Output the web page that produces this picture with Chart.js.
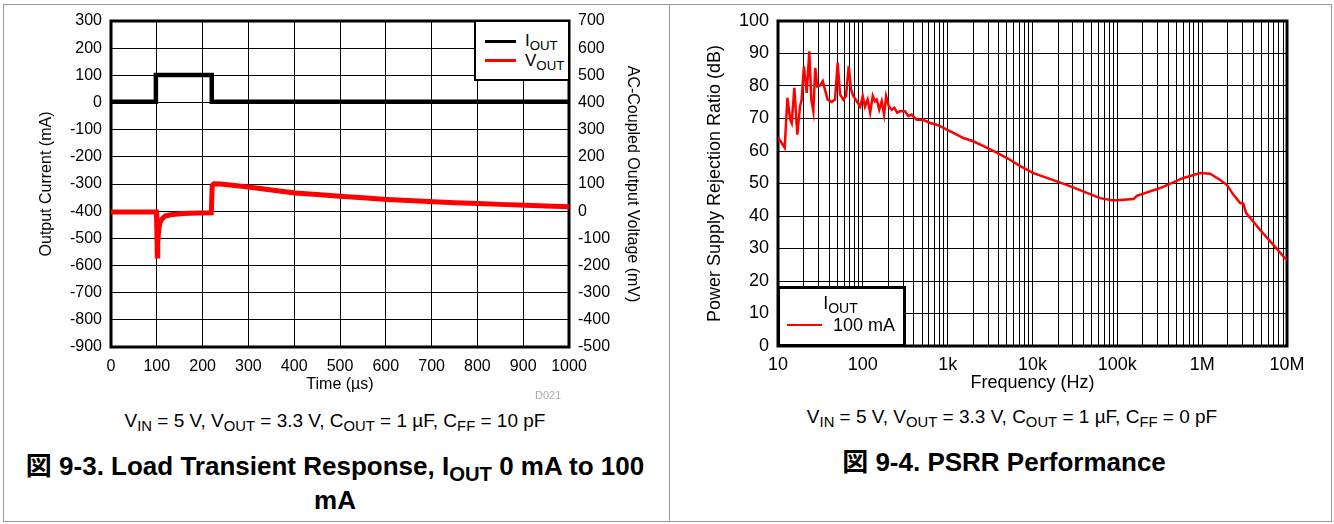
<!DOCTYPE html>
<html><head><meta charset="utf-8">
<script src="https://cdn.jsdelivr.net/npm/chart.js@4.4.1/dist/chart.umd.min.js"></script>
<style>
body{margin:0;width:1334px;height:524px;position:relative;background:#fff;overflow:hidden;font-family:"Liberation Sans",Arial,"Noto Sans CJK JP",sans-serif;color:#000}
.abs{position:absolute}
sub{font-size:0.78em;vertical-align:-0.28em;line-height:0}
.cap{position:absolute;font-size:19px;line-height:22px;text-align:center;white-space:nowrap}
.ttl{position:absolute;font-size:26px;line-height:34px;font-weight:bold;text-align:center;white-space:nowrap}
.lg{position:absolute;font-size:17px;line-height:20px;white-space:nowrap}
.lg2{position:absolute;font-size:18px;line-height:22px;white-space:nowrap}
</style></head>
<body>
<div class="abs" style="left:3px;top:4px;width:1327px;height:516px;border:1px solid #999"></div>
<div class="abs" style="left:669px;top:4px;width:1px;height:517px;background:#999"></div>
<canvas id="c1" class="abs" width="669" height="400" style="left:0;top:0"></canvas>
<canvas id="c2" class="abs" width="664" height="400" style="left:670px;top:0"></canvas>

<div class="abs" style="left:474px;top:20px;width:96px;height:61px;border:2px solid #000;box-sizing:border-box;background:#fff"></div>
<div class="abs" style="left:485px;top:40px;width:31px;height:3px;background:#000"></div>
<div class="lg" style="left:525px;top:31px;">I<sub>OUT</sub></div>
<div class="abs" style="left:485px;top:59px;width:31px;height:3px;background:#f00"></div>
<div class="lg" style="left:525px;top:51px;">V<sub>OUT</sub></div>

<div class="abs" style="left:777px;top:286px;width:129px;height:61px;border:3px solid #000;box-sizing:border-box;background:#fff"></div>
<div class="lg2" style="left:776px;width:129px;text-align:center;top:292px;">I<sub>OUT</sub></div>
<div class="abs" style="left:787px;top:324px;width:35px;height:2px;background:#f00"></div>
<div class="lg2" style="left:833px;top:314px;">100 mA</div>

<div class="abs" style="left:535px;top:389px;font-size:11px;color:#aaa">D021</div>

<div class="cap" style="left:0;width:670px;top:410px;">V<sub>IN</sub> = 5 V, V<sub>OUT</sub> = 3.3 V, C<sub>OUT</sub> = 1 µF, C<sub>FF</sub> = 10 pF</div>
<div class="ttl" style="left:0;width:670px;top:449px;">図 9-3. Load Transient Response, I<sub>OUT</sub> 0 mA to 100<br>mA</div>

<div class="cap" style="left:680px;width:664px;top:406px;">V<sub>IN</sub> = 5 V, V<sub>OUT</sub> = 3.3 V, C<sub>OUT</sub> = 1 µF, C<sub>FF</sub> = 0 pF</div>
<div class="ttl" style="left:672px;width:664px;top:445px;">図 9-4. PSRR Performance</div>

<script>
// ---- Load transient data ----
const iTime = [0, 98, 98, 220, 220, 1000];
const iOut  = [3, 3, 101, 101, 3, 3];
const vTime = [0, 99, 100, 101, 102, 104, 107, 112, 118, 130, 157, 190, 219, 221, 225, 240, 260, 300, 350, 402, 450, 500, 550, 602, 650, 704, 750, 802, 850, 904, 950, 1000];
const vOut  = [-3, -3, -60, -165, -120, -70, -42, -28, -18, -13, -9, -7, -6, 95, 101, 100, 96, 89, 78, 67, 61, 55, 49, 43, 39, 35, 31, 28, 25, 22, 19, 16];

// ---- PSRR data ----
const freqHz = [10, 10.4, 12, 12.9, 13.9, 14.5, 15.6, 16.9, 18.2, 19, 20.2, 21.8, 23.4, 24.7, 26.1, 27.5, 29, 31.3, 33.7, 35.8, 38.5, 42.9, 47, 50.5, 53.9, 58.9, 63.4, 68.2, 72.5, 77.4, 84.9, 92.9, 99.8, 106, 114, 122, 131, 139, 146, 156, 167, 178, 188, 202, 219, 235, 254, 274, 314, 344, 376, 431, 519, 621, 745, 892, 978, 1170, 1530, 2000, 2650, 3780, 5200, 7000, 10260, 25300, 62700, 90000, 155000, 170000, 320000, 602000, 946000, 1240000, 1630000, 1950000, 2340000, 2800000, 3050000, 3300000, 4830000, 6900000, 10000000];
const psrrDb = [64, 63.5, 61, 76.4, 69.7, 68.6, 79.4, 65, 73.8, 75.8, 86, 77.9, 90.7, 75.8, 72.2, 85.6, 79.9, 80.2, 81.5, 78.9, 75.8, 75.1, 75.8, 87.2, 77.4, 75.8, 77, 86.1, 78.9, 76.9, 75.3, 73.6, 76.9, 73.6, 75.8, 71.8, 77, 75.3, 75.8, 72.7, 75.3, 71.2, 76.9, 73.8, 72.7, 73.3, 71.8, 72.2, 72.2, 70.7, 71.2, 69.6, 69.6, 68.6, 68.1, 67.1, 66.6, 65.6, 64, 63, 61.5, 59.5, 57.6, 55.5, 53.2, 49.6, 45.5, 44.8, 45.2, 46.2, 48.6, 51.7, 53.2, 53, 51.1, 49.6, 46.5, 44, 43.8, 40.9, 35.7, 31.1, 26.3];

const freqTickValues = [10, 100, 1000, 10000, 100000, 1000000, 10000000];
const freqTickLabels = ['10', '100', '1k', '10k', '100k', '1M', '10M'];

const FONT = '"Liberation Sans", Arial, sans-serif';

const framePlugin = {
  id: 'frame',
  beforeDatasetsDraw(chart) {
    const {ctx, chartArea: a} = chart;
    ctx.save();
    ctx.lineWidth = 3;
    ctx.strokeStyle = '#000';
    ctx.strokeRect(a.left, a.top, a.right - a.left, a.bottom - a.top);
    ctx.restore();
  }
};

const zip = (xs, ys) => xs.map((x, i) => ({x, y: ys[i]}));
const plain = v => String(v);

new Chart(document.getElementById('c1'), {
  type: 'line',
  data: {
    datasets: [
      {label: 'IOUT', data: zip(iTime, iOut), yAxisID: 'y', borderColor: '#000', borderWidth: 4.5, pointRadius: 0, tension: 0},
      {label: 'VOUT', data: zip(vTime, vOut), yAxisID: 'y2', borderColor: '#ff0000', borderWidth: 5, pointRadius: 0, tension: 0}
    ]
  },
  options: {
    responsive: false, animation: false, devicePixelRatio: 1,
    layout: {padding: {top: 21, left: 0, right: 0, bottom: 0}},
    plugins: {legend: {display: false}, tooltip: {enabled: false}},
    scales: {
      x: {
        type: 'linear', min: 0, max: 1000,
        ticks: {stepSize: 100, color: '#000', font: {family: FONT, size: 16}, padding: 10, maxRotation: 0, callback: plain},
        grid: {color: '#000', lineWidth: 1, drawTicks: false},
        border: {display: false},
        title: {display: true, text: 'Time (µs)', color: '#000', font: {family: FONT, size: 16}, padding: {top: 0, bottom: 5.4}},
        afterFit: s => { s.height = 53; }
      },
      y: {
        position: 'left', min: -900, max: 300,
        ticks: {stepSize: 100, color: '#000', font: {family: FONT, size: 16}, padding: 9, callback: plain},
        grid: {color: '#000', lineWidth: 1, drawTicks: false},
        border: {display: false},
        title: {display: true, text: 'Output Current (mA)', color: '#000', font: {family: FONT, size: 16}, padding: {top: 37.4, bottom: 0}},
        afterFit: s => { s.width = 111; }
      },
      y2: {
        position: 'right', min: -500, max: 700,
        ticks: {stepSize: 100, color: '#000', font: {family: FONT, size: 16}, padding: 9, callback: plain},
        grid: {display: false, drawTicks: false},
        border: {display: false},
        title: {display: true, text: 'AC-Coupled Output Voltage (mV)', color: '#000', font: {family: FONT, size: 16}, padding: {top: 27.4, bottom: 0}},
        afterFit: s => { s.width = 100; }
      }
    }
  },
  plugins: [framePlugin]
});

const gridFreqs = [];
freqTickValues.forEach((d, i) => {
  if (i === freqTickValues.length - 1) { gridFreqs.push(d); return; }
  for (let k = 1; k <= 9; k++) gridFreqs.push(d * k);
});

new Chart(document.getElementById('c2'), {
  type: 'line',
  data: {
    datasets: [
      {label: '100 mA', data: zip(freqHz, psrrDb), borderColor: '#ff0000', borderWidth: 2.5, pointRadius: 0, tension: 0}
    ]
  },
  options: {
    responsive: false, animation: false, devicePixelRatio: 1,
    layout: {padding: {top: 21, left: 0, right: 47, bottom: 0}},
    plugins: {legend: {display: false}, tooltip: {enabled: false}},
    scales: {
      x: {
        type: 'logarithmic', min: 10, max: 10000000,
        afterBuildTicks: s => { s.ticks = gridFreqs.map(v => ({value: v})); },
        ticks: {
          autoSkip: false, maxRotation: 0, minRotation: 0,
          color: '#000', font: {family: FONT, size: 18}, padding: 8,
          callback: v => { const i = freqTickValues.indexOf(v); return i >= 0 ? freqTickLabels[i] : ''; }
        },
        grid: {color: '#000', lineWidth: 1, drawTicks: false},
        border: {display: false},
        title: {display: true, text: 'Frequency (Hz)', color: '#000', font: {family: FONT, size: 18}, padding: {top: 0, bottom: 6.2}},
        afterFit: s => { s.height = 54; }
      },
      y: {
        min: 0, max: 100,
        ticks: {stepSize: 10, color: '#000', font: {family: FONT, size: 18}, padding: 9},
        grid: {color: '#000', lineWidth: 1, drawTicks: false},
        border: {display: false},
        title: {display: true, text: 'Power Supply Rejection Ratio (dB)', color: '#000', font: {family: FONT, size: 18}, padding: {top: 34.2, bottom: 0}},
        afterFit: s => { s.width = 108; }
      }
    }
  },
  plugins: [framePlugin]
});
</script>
</body></html>
